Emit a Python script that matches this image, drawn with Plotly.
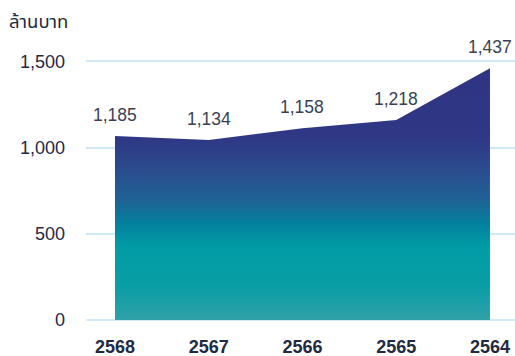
import plotly.graph_objects as go

years = ["2568", "2567", "2566", "2565", "2564"]
values = [1066, 1043, 1112, 1159, 1460]
labels = ["1,185", "1,134", "1,158", "1,218", "1,437"]
y_ticks = [0, 500, 1000, 1500]
y_ticktext = ["0", "500", "1,000", "1,500"]

FONT = "Liberation Sans, Arial, sans-serif"
TXT = "#1f2a44"

fig = go.Figure()
fig.add_trace(go.Scatter(
    x=list(range(len(years))), y=values, mode="lines", line=dict(width=0),
    fill="tozeroy",
    fillgradient=dict(type="vertical", colorscale=[
        [0.0, "#30a0a7"], [0.13, "#0a9ea6"], [0.29, "#009ca5"],
        [0.385, "#037f9d"], [0.476, "#1f6294"], [0.6, "#2a4b8d"],
        [0.72, "#2f3885"], [1.0, "#2f3483"]]),
    hoverinfo="skip", showlegend=False,
))

for i, (v, lab) in enumerate(zip(values, labels)):
    fig.add_annotation(x=i, y=v, text=lab, showarrow=False, yanchor="bottom",
                       yshift=9, font=dict(family=FONT, size=17.5, color="#3a3f55"))

fig.add_annotation(x=(7 - 86) / 429, y=(320 - 22) / 276, xref="paper", yref="paper",
                   text="ล้านบาท", showarrow=False, xanchor="left", yanchor="middle",
                   font=dict(family="Noto Sans Thai, Noto Sans, sans-serif", size=18.5, color=TXT))

fig.update_layout(
    width=515, height=356, margin=dict(l=86, r=0, t=44, b=36),
    plot_bgcolor="white", paper_bgcolor="white",
    xaxis=dict(range=[-0.309, 4.267], showgrid=False,
               tickvals=list(range(len(years))), ticktext=years,
               ticks="", tickfont=dict(family=FONT, size=18, color=TXT, weight="bold"),
               ticklabelstandoff=14, showline=False, zeroline=False),
    yaxis=dict(range=[0, 1600], tickvals=y_ticks, ticktext=y_ticktext,
               showgrid=True, gridcolor="#cfe9f8", gridwidth=1.5, zeroline=True,
               zerolinecolor="#cfe9f8", zerolinewidth=1.5,
               tickfont=dict(family=FONT, size=18, color=TXT), ticklabelstandoff=20),
)
fig.write_html("out.html")
